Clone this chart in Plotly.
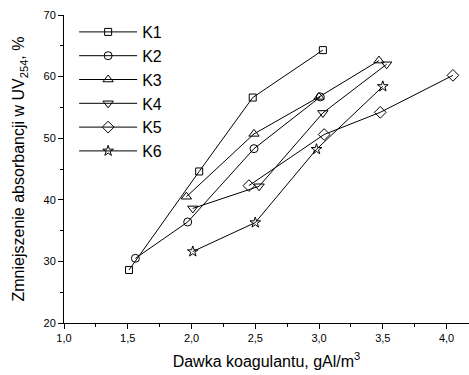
import plotly.graph_objects as go

series_names = ["K1", "K2", "K3", "K4", "K5", "K6"]
k1_x = [1.51, 2.06, 2.48, 3.03]
k1_y = [28.6, 44.6, 56.6, 64.3]
k2_x = [1.56, 1.97, 2.49, 3.01]
k2_y = [30.5, 36.4, 48.3, 56.7]
k3_x = [1.96, 2.49, 3.00, 3.47]
k3_y = [40.5, 50.7, 56.7, 62.6]
k4_x = [2.01, 2.53, 3.03, 3.53]
k4_y = [38.6, 42.2, 54.1, 62.0]
k5_x = [2.45, 3.04, 3.48, 4.05]
k5_y = [42.3, 50.6, 54.2, 60.2]
k6_x = [2.01, 2.50, 2.98, 3.50]
k6_y = [31.6, 36.3, 48.2, 58.4]

x_tick_vals = [1.0, 1.5, 2.0, 2.5, 3.0, 3.5, 4.0]
x_tick_text = ["1,0", "1,5", "2,0", "2,5", "3,0", "3,5", "4,0"]
y_tick_vals = [20, 30, 40, 50, 60, 70]

xs = [k1_x, k2_x, k3_x, k4_x, k5_x, k6_x]
ys = [k1_y, k2_y, k3_y, k4_y, k5_y, k6_y]
symbols = ["square-open", "circle-open", "triangle-up-open", "triangle-down-open", "diamond-open", "star-open"]
sizes = [7, 8, 9, 9, 9, 8]

fig = go.Figure()
for name, x, y, sym, sz in zip(series_names, xs, ys, symbols, sizes):
    fig.add_trace(go.Scatter(
        x=x, y=y, name=name, mode="lines+markers",
        line=dict(color="black", width=1),
        marker=dict(symbol=sym, size=sz, color="black", line=dict(color="black", width=1)),
        cliponaxis=False,
    ))

font_family = "Arial, Liberation Sans, sans-serif"
fig.update_layout(
    width=469, height=375,
    margin=dict(l=63.5, r=0, t=15, b=51.5, autoexpand=False),
    paper_bgcolor="white", plot_bgcolor="white",
    font=dict(family=font_family, color="black"),
    showlegend=True,
    legend=dict(x=0.025, y=1.0, xanchor="left", yanchor="top",
                font=dict(size=16, family=font_family),
                bgcolor="rgba(0,0,0,0)", itemwidth=58, tracegroupgap=0),
    xaxis=dict(range=[1.0, 4.176], tickvals=x_tick_vals, ticktext=x_tick_text, automargin=False,
               showgrid=False, zeroline=False, showline=True, linecolor="black", linewidth=1,
               ticks="outside", ticklen=5, tickcolor="black", tickfont=dict(size=11),
               minor=dict(ticks="outside", ticklen=3, dtick=0.25, tickcolor="black", showgrid=False),
               title=dict(text="Dawka koagulantu, gAl/m<sup>3</sup>", font=dict(size=16), standoff=12)),
    yaxis=dict(range=[20, 70], tickvals=y_tick_vals, automargin=False,
               showgrid=False, zeroline=False, showline=True, linecolor="black", linewidth=1,
               ticks="outside", ticklen=5, tickcolor="black", tickfont=dict(size=11),
               minor=dict(ticks="outside", ticklen=3, dtick=5, tickcolor="black", showgrid=False),
               title=dict(text="Zmniejszenie absorbancji w UV<sub>254</sub>, %", font=dict(size=16), standoff=14)),
)

fig.write_html("out.html", config={"displayModeBar": False},
               post_script="document.body.style.margin='0px';document.body.style.overflow='hidden';")
